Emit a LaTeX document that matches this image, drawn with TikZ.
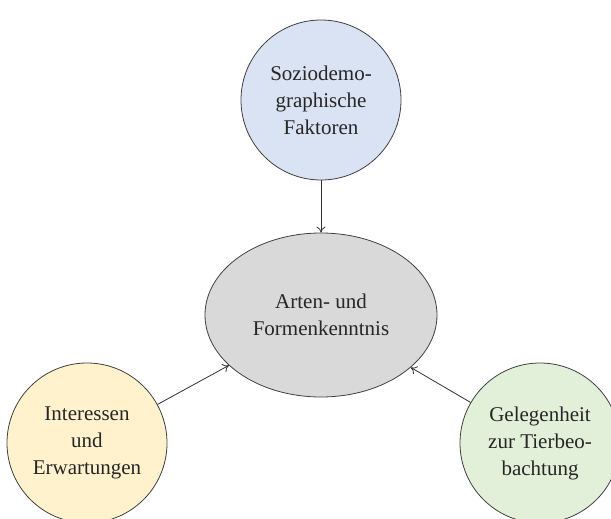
\documentclass[tikz,border=0pt]{standalone}
\usepackage{fontspec}
\setmainfont{Liberation Serif}
\usetikzlibrary{shapes.geometric,arrows.meta}
\definecolor{fillblue}{HTML}{DAE3F3}
\definecolor{fillgray}{HTML}{D9D9D9}
\definecolor{fillyellow}{HTML}{FFF2CC}
\definecolor{fillgreen}{HTML}{E2F0D9}
\definecolor{edgegray}{HTML}{404040}
\begin{document}
\begin{tikzpicture}[x=1pt,y=-1pt,
  label font/.style={font=\fontsize{21}{27}\selectfont,text=black!85},
  factor/.style={circle,draw=edgegray,line width=0.8pt,minimum size=160pt,inner sep=0pt,
    align=center,label font},
  core/.style={ellipse,draw=edgegray,line width=0.8pt,fill=fillgray,minimum width=232pt,
    minimum height=164pt,inner sep=0pt,align=center,label font},
  link/.style={draw=black!80,line width=0.8pt,-{To[length=6pt,width=9pt]}}]
\useasboundingbox (0,0) rectangle (611,519);
\clip (0,0) rectangle (611,519);
\node[factor,fill=fillblue] (socio) at (321,100) {Soziodemo-\\graphische\\Faktoren};
\node[core] (arten) at (321,315) {Arten- und\\Formenkenntnis};
\node[factor,fill=fillyellow] (interest) at (87,443) {Interessen\\und\\Erwartungen};
\node[factor,fill=fillgreen] (chance) at (540,443) {Gelegenheit\\zur Tierbeo-\\bachtung};
\draw[link] (socio) -- (arten);
\draw[link] (interest) -- (arten);
\draw[link] (chance) -- (arten);
\end{tikzpicture}
\end{document}
